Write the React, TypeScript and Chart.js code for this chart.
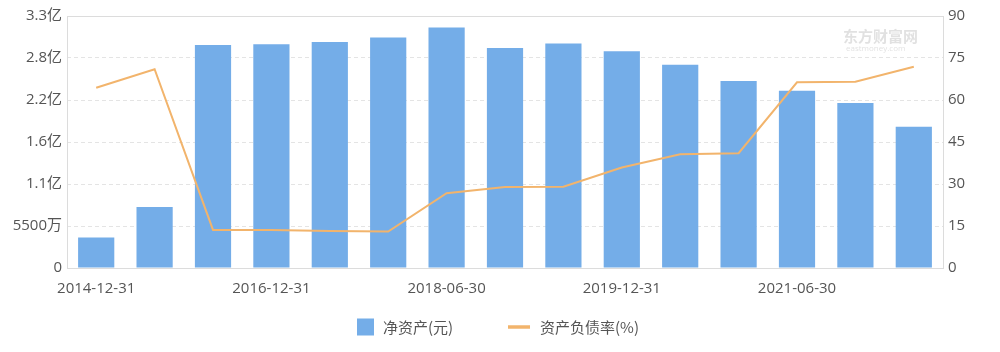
import React, { useEffect, useRef } from "react";
import { Chart, registerables } from "chart.js";

Chart.register(...registerables);

const categories = [
  "2014-12-31", "2015-12-31", "2016-06-30", "2016-12-31", "2017-06-30",
  "2017-12-31", "2018-06-30", "2018-12-31", "2019-06-30", "2019-12-31",
  "2020-06-30", "2020-12-31", "2021-06-30", "2021-12-31", "2022-06-30",
];

// 净资产 (元)
const netAssets = [
  0.40e8, 0.80e8, 2.92e8, 2.93e8, 2.96e8,
  3.02e8, 3.15e8, 2.88e8, 2.94e8, 2.84e8,
  2.66e8, 2.45e8, 2.32e8, 2.16e8, 1.85e8,
];

// 资产负债率 (%)
const debtRatio = [
  64.4, 71.0, 13.6, 13.6, 13.2,
  13.0, 26.7, 28.9, 29.0, 35.9,
  40.6, 41.0, 66.3, 66.5, 71.9,
];

const leftTickLabels = ["0", "5500万", "1.1亿", "1.6亿", "2.2亿", "2.8亿", "3.3亿"];
const rightTickLabels = ["0", "15", "30", "45", "60", "75", "90"];

const barLabel = "净资产(元)";
const lineLabel = "资产负债率(%)";

const BAR_COLOR = "#74ade8";
const LINE_COLOR = "#f2b46c";
const TEXT_COLOR = "#555555";
const FONT = "'Open Sans', 'Noto Sans CJK SC', sans-serif";

export default function App() {
  const ref = useRef<HTMLCanvasElement | null>(null);

  useEffect(() => {
    document.body.style.margin = "0";
    const canvas = ref.current;
    if (!canvas) return;

    const framePlugin = {
      id: "frame",
      beforeDatasetsDraw(chart: any) {
        const { ctx, chartArea } = chart;
        ctx.save();
        ctx.fillStyle = "rgba(120,120,120,0.22)";
        ctx.font = "bold 15px 'Noto Sans CJK SC', sans-serif";
        ctx.textAlign = "left";
        ctx.textBaseline = "middle";
        ctx.fillText("东方财富网", chartArea.right - 100, 36);
        ctx.font = "8px 'Open Sans', sans-serif";
        ctx.fillText("eastmoney.com", chartArea.right - 97, 49);
        ctx.restore();
      },
      afterDraw(chart: any) {
        const { ctx, chartArea } = chart;
        ctx.save();
        ctx.strokeStyle = "#dcdcdc";
        ctx.lineWidth = 1;
        ctx.setLineDash([]);
        ctx.strokeRect(
          Math.round(chartArea.left) + 0.5,
          Math.round(chartArea.top) + 0.5,
          Math.round(chartArea.right - chartArea.left),
          Math.round(chartArea.bottom - chartArea.top)
        );
        // legend
        const y = 327;
        ctx.fillStyle = BAR_COLOR;
        ctx.fillRect(357, y - 8.5, 17, 17);
        ctx.font = "15px 'Noto Sans CJK SC', sans-serif";
        ctx.fillStyle = TEXT_COLOR;
        ctx.textBaseline = "middle";
        ctx.textAlign = "left";
        ctx.fillText(chart.data.datasets[0].label, 383, y);
        ctx.strokeStyle = LINE_COLOR;
        ctx.lineWidth = 3.5;
        ctx.beginPath();
        ctx.moveTo(508, y);
        ctx.lineTo(530, y);
        ctx.stroke();
        ctx.fillText(chart.data.datasets[1].label, 540, y);
        ctx.restore();
      },
    };

    const chart = new Chart(canvas, {
      type: "bar",
      data: {
        labels: categories,
        datasets: [
          {
            type: "bar",
            label: barLabel,
            data: netAssets,
            backgroundColor: BAR_COLOR,
            borderWidth: 0,
            yAxisID: "y",
            order: 1,
            categoryPercentage: 1,
            barPercentage: 0.62,
          },
          {
            type: "line",
            label: lineLabel,
            data: debtRatio,
            borderColor: LINE_COLOR,
            borderWidth: 2,
            pointRadius: 0,
            tension: 0,
            yAxisID: "y1",
            order: 0,
          },
        ] as any,
      },
      plugins: [framePlugin],
      options: {
        animation: false,
        responsive: false,
        maintainAspectRatio: false,
        layout: { padding: { top: 16, left: 0, right: 0, bottom: 0 } },
        plugins: {
          legend: { display: false },
          tooltip: { enabled: false },
        },
        scales: {
          x: {
            grid: { display: false, drawTicks: false },
            border: { display: false },
            ticks: {
              autoSkip: false,
              maxRotation: 0,
              padding: 12,
              color: TEXT_COLOR,
              font: { size: 15, family: FONT },
              callback: (_v: any, i: number) => (i % 3 === 0 ? categories[i] : ""),
            },
            afterFit: (s: any) => {
              s.height = 84;
            },
          },
          y: {
            position: "left",
            min: 0,
            max: 330e6,
            grid: { color: "#e4e4e4", drawTicks: false },
            border: { display: false, dash: [4, 3] },
            ticks: {
              stepSize: 55e6,
              padding: 5,
              color: TEXT_COLOR,
              font: { size: 15, family: FONT },
              callback: (_v: any, i: number) => leftTickLabels[i],
            },
            afterFit: (s: any) => {
              s.width = 67;
            },
          },
          y1: {
            position: "right",
            min: 0,
            max: 90,
            grid: { display: false, drawTicks: false },
            border: { display: false },
            ticks: {
              stepSize: 15,
              padding: 5,
              color: TEXT_COLOR,
              font: { size: 15, family: FONT },
              callback: (_v: any, i: number) => rightTickLabels[i],
            },
            afterFit: (s: any) => {
              s.width = 57;
            },
          },
        },
      } as any,
    });

    return () => chart.destroy();
  }, []);

  return (
    <div style={{ width: 1000, height: 352, background: "#fff" }}>
      <canvas ref={ref} width={1000} height={352} style={{ display: "block" }} />
    </div>
  );
}
